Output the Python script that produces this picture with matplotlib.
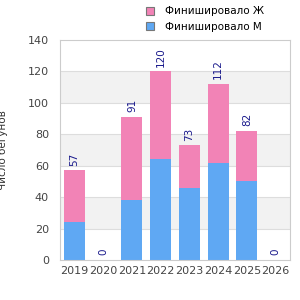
import numpy as np
import matplotlib.pyplot as plt

years = ["2019", "2020", "2021", "2022", "2023", "2024", "2025", "2026"]
male = [24, 0, 38, 64, 46, 62, 50, 0]
total = [57, 0, 91, 120, 73, 112, 82, 0]
female = [t - m for t, m in zip(total, male)]

pink = "#f283b6"
blue = "#5fa8f3"

fig = plt.figure(figsize=(3, 3), dpi=100)
ax = fig.add_axes([0.2, 0.1333, 0.7667, 0.7333])

# alternating background bands
for lo in range(20, 140, 40):
    ax.axhspan(lo, lo + 20, color="#f2f2f2", zorder=0, lw=0)
for y in range(20, 140, 20):
    ax.axhline(y, color="#dddddd", lw=0.8, zorder=0.5)

x = np.arange(len(years))
ax.bar(x, male, width=0.73, color=blue, zorder=2, label="Финишировало М")
ax.bar(x, female, width=0.73, bottom=male, color=pink, zorder=2, label="Финишировало Ж")

for xi, t in zip(x, total):
    ax.text(xi, t + 3, str(t), rotation=90, ha="center", va="bottom",
            fontsize=7.5, color="#1a1a8c")

ax.set_xlim(-0.5, len(years) - 0.5)
ax.set_ylim(0, 140)
ax.set_yticks(range(0, 141, 20))
ax.set_xticks(x)
ax.set_xticklabels(years)
ax.tick_params(length=0, labelsize=8, colors="#444444", pad=4)
ax.tick_params(axis="y", pad=8)
for s in ax.spines.values():
    s.set_color("#cccccc")
ax.set_ylabel("Число бегунов", fontsize=7.5, color="#333333", labelpad=14)

h, l = ax.get_legend_handles_labels()
leg = fig.legend(h[::-1], l[::-1], loc="upper left", bbox_to_anchor=(0.455, 1.01),
                 frameon=False, fontsize=7.5, handlelength=0.8, handleheight=0.8,
                 labelspacing=0.5, handletextpad=1.0)
for p in leg.get_patches():
    p.set_edgecolor("#777777")
    p.set_linewidth(0.8)

fig.savefig("out.png", dpi=100)
